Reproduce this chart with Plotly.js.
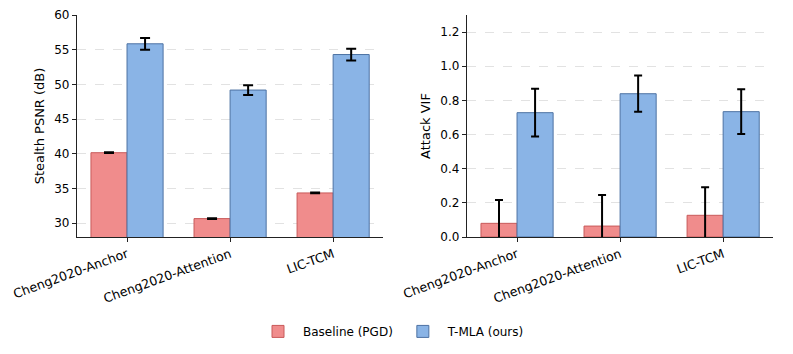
<!DOCTYPE html>
<html>
<head>
<meta charset="utf-8">
<script src="https://cdn.plot.ly/plotly-3.0.1.min.js"></script>
<style>
  body { margin: 0; background: white; }
  #chart { width: 793px; height: 354px; }
</style>
</head>
<body>
<div id="chart"></div>
<script>
// models on the x axis
var models = ["Cheng2020-Anchor", "Cheng2020-Attention", "LIC-TCM"];

// stealth PSNR (dB)
var psnr_base = [40.15, 30.65, 34.35];
var psnr_base_err = [0.05, 0.05, 0.05];
var psnr_ours = [55.85, 49.18, 54.3];
var psnr_ours_err = [0.85, 0.7, 0.85];

// attack VIF
var vif_base = [0.08, 0.064, 0.127];
var vif_base_err = [0.137, 0.182, 0.164];
var vif_ours = [0.728, 0.839, 0.734];
var vif_ours_err = [0.14, 0.106, 0.131];

var red = "#f08c8c", redEdge = "#c85a5a";
var blue = "#8ab4e6", blueEdge = "#4d72a3";

function errBar(arr, w) {
  return { type: "data", array: arr, visible: true, color: "black", thickness: 2, width: w };
}

var data = [
  {
    type: "bar", x: models, y: psnr_base, name: "Baseline (PGD)",
    marker: { color: red, line: { color: redEdge, width: 1 } },
    error_y: errBar(psnr_base_err, 5), xaxis: "x", yaxis: "y",
    legendgroup: "base"
  },
  {
    type: "bar", x: models, y: psnr_ours, name: "T-MLA (ours)",
    marker: { color: blue, line: { color: blueEdge, width: 1 } },
    error_y: errBar(psnr_ours_err, 5), xaxis: "x", yaxis: "y",
    legendgroup: "ours"
  },
  {
    type: "bar", x: models, y: vif_base, name: "Baseline (PGD)",
    marker: { color: red, line: { color: redEdge, width: 1 } },
    error_y: errBar(vif_base_err, 4), xaxis: "x2", yaxis: "y2",
    legendgroup: "base", showlegend: false
  },
  {
    type: "bar", x: models, y: vif_ours, name: "T-MLA (ours)",
    marker: { color: blue, line: { color: blueEdge, width: 1 } },
    error_y: errBar(vif_ours_err, 4), xaxis: "x2", yaxis: "y2",
    legendgroup: "ours", showlegend: false
  }
];

var axisFont = { family: "DejaVu Sans", size: 12, color: "black" };

function xAx(domain, anchor) {
  return {
    domain: domain, anchor: anchor,
    range: [-0.485, 2.485],
    showline: true, linecolor: "#222", linewidth: 1.2,
    ticks: "outside", ticklen: 4, tickcolor: "#222",
    tickangle: -20, tickfont: { family: "DejaVu Sans", size: 12.6, color: "black" },
    showgrid: false, zeroline: false
  };
}
function yAx(domain, anchor, range, dtick, fmt, title) {
  return {
    domain: [0, 1], anchor: anchor,
    range: range, dtick: dtick, tick0: 0, tickformat: fmt,
    showline: true, linecolor: "#222", linewidth: 1.2,
    ticks: "outside", ticklen: 4, tickcolor: "#222",
    tickfont: axisFont,
    showgrid: true, gridcolor: "#e2e2e2", griddash: "dash", gridwidth: 1,
    zeroline: false,
    title: { text: title, font: { family: "DejaVu Sans", size: 13, color: "black" }, standoff: 6 }
  };
}

var layout = {
  width: 793, height: 354,
  margin: { l: 0, r: 10, t: 15, b: 117 },
  paper_bgcolor: "white", plot_bgcolor: "white",
  barmode: "group", bargap: 0.3, bargroupgap: 0,
  font: { family: "DejaVu Sans", size: 12, color: "black" },
  xaxis: xAx([0.0984, 0.4893], "y"),
  yaxis: yAx(null, "x", [28, 60], 5, "d", "Stealth PSNR (dB)"),
  xaxis2: xAx([0.5965, 0.9874], "y2"),
  yaxis2: yAx(null, "x2", [0, 1.3], 0.2, ".1f", "Attack VIF"),
  showlegend: true,
  legend: {
    orientation: "h", x: 0.5, xanchor: "center", y: -0.36, yanchor: "top",
    font: { family: "DejaVu Sans", size: 12, color: "black" },
    itemwidth: 40, traceorder: "normal"
  }
};

Plotly.newPlot("chart", data, layout, { displayModeBar: false, staticPlot: true });
</script>
</body>
</html>
